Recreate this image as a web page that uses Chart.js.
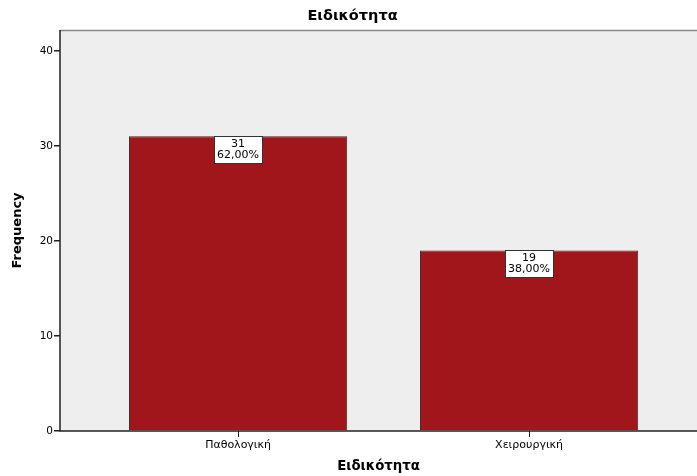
<!DOCTYPE html>
<html>
<head>
<meta charset="utf-8">
<script src="https://cdn.jsdelivr.net/npm/chart.js@4/dist/chart.umd.min.js"></script>
<style>
  html, body { margin: 0; padding: 0; background: #ffffff; }
  #wrap { width: 697px; height: 476px; position: relative; }
</style>
</head>
<body>
<div id="wrap"><canvas id="chart" width="697" height="476"></canvas></div>
<script>
// Specialty breakdown: counts per category
const categories = ['Παθολογική', 'Χειρουργική'];
const counts = [31, 19];
const yTicks = [0, 10, 20, 30, 40];

const total = counts.reduce((a, b) => a + b, 0);
const FONT = "'DejaVu Sans', Verdana, sans-serif";

// White value boxes (count + percent) hanging from each bar top
const valueBoxes = {
  id: 'valueBoxes',
  afterDatasetsDraw(chart) {
    const ctx = chart.ctx;
    const meta = chart.getDatasetMeta(0);
    meta.data.forEach((bar, i) => {
      const pct = (counts[i] / total * 100).toFixed(2).replace('.', ',') + '%';
      const w = 48, h = 27;
      const x = Math.round(bar.x - w / 2) + 0.5;
      const y = Math.round(bar.y) + 0.5;
      ctx.save();
      ctx.fillStyle = '#ffffff';
      ctx.strokeStyle = '#333333';
      ctx.lineWidth = 1;
      ctx.fillRect(x, y, w, h);
      ctx.strokeRect(x, y, w, h);
      ctx.fillStyle = '#000000';
      ctx.font = '11px ' + FONT;
      ctx.textAlign = 'center';
      ctx.textBaseline = 'middle';
      ctx.fillText(String(counts[i]), bar.x, y + 8);
      ctx.fillText(pct, bar.x, y + 19);
      ctx.restore();
    });
  }
};

// Nudge the chart title slightly to the right
const titleNudge = {
  id: 'titleNudge',
  afterLayout(chart) {
    if (chart.titleBlock) {
      chart.titleBlock.left += 4;
      chart.titleBlock.right += 4;
    }
  }
};

// Plot background and frame lines
const plotFrame = {
  id: 'plotFrame',
  beforeDatasetsDraw(chart) {
    const { ctx, chartArea: a } = chart;
    ctx.save();
    ctx.fillStyle = '#eeeeee';
    ctx.fillRect(a.left, a.top, a.right - a.left, a.bottom - a.top);
    ctx.strokeStyle = '#888888';
    ctx.lineWidth = 1.5;
    ctx.beginPath();
    ctx.moveTo(a.left, a.top + 0.5);
    ctx.lineTo(a.right, a.top + 0.5);
    ctx.stroke();
    ctx.restore();
  },
  afterDatasetsDraw(chart) {
    const { ctx, chartArea: a } = chart;
    ctx.save();
    ctx.strokeStyle = '#222222';
    ctx.lineWidth = 1.5;
    ctx.beginPath();
    ctx.moveTo(a.left, a.top);
    ctx.lineTo(a.left, a.bottom);
    ctx.lineTo(a.right, a.bottom);
    ctx.stroke();
    ctx.restore();
  }
};

new Chart(document.getElementById('chart'), {
  type: 'bar',
  data: {
    datasets: [{
      data: categories.map((c, i) => ({ x: i, y: counts[i] })),
      backgroundColor: '#a1161a',
      borderColor: '#3a2a2a',
      borderWidth: 1,
      barPercentage: 0.75,
      categoryPercentage: 1.0
    }]
  },
  options: {
    responsive: false,
    animation: false,
    layout: { padding: { top: 0, right: 0, bottom: 0, left: 0 } },
    plugins: {
      legend: { display: false },
      tooltip: { enabled: false },
      title: {
        display: true,
        text: 'Ειδικότητα',
        color: '#000000',
        font: { family: FONT, size: 14.5, weight: 'bold' },
        padding: { top: 8, bottom: 4.5 }
      }
    },
    scales: {
      x: {
        type: 'linear',
        offset: false,
        min: -0.612,
        max: 1.577,
        afterFit(scale) { scale.height = 45; },
        afterBuildTicks(scale) {
          scale.ticks = categories.map((c, i) => ({ value: i }));
        },
        ticks: {
          color: '#000000',
          font: { family: FONT, size: 11 },
          padding: 2,
          maxRotation: 0,
          autoSkip: false,
          callback: (v) => categories[v]
        },
        grid: {
          display: true,
          offset: false,
          drawOnChartArea: false,
          drawTicks: true,
          tickLength: 6,
          color: '#222222',
          lineWidth: 1
        },
        border: { display: false },
        title: {
          display: true,
          text: 'Ειδικότητα',
          color: '#000000',
          font: { family: FONT, size: 13.3, weight: 'bold' },
          padding: { top: 0, bottom: 1.5 }
        }
      },
      y: {
        min: 0,
        max: 42.2,
        afterFit(scale) { scale.width = 60; },
        afterBuildTicks(scale) {
          scale.ticks = yTicks.map(v => ({ value: v }));
        },
        ticks: {
          color: '#000000',
          font: { family: FONT, size: 10.5 },
          padding: 1
        },
        grid: {
          display: true,
          drawOnChartArea: false,
          drawTicks: true,
          tickLength: 6,
          color: '#222222',
          lineWidth: 1.5
        },
        border: { display: false },
        title: {
          display: true,
          text: 'Frequency',
          color: '#000000',
          font: { family: FONT, size: 13, weight: 'bold' },
          padding: { top: 10, bottom: 0 }
        }
      }
    }
  },
  plugins: [plotFrame, valueBoxes, titleNudge]
});
</script>
</body>
</html>
